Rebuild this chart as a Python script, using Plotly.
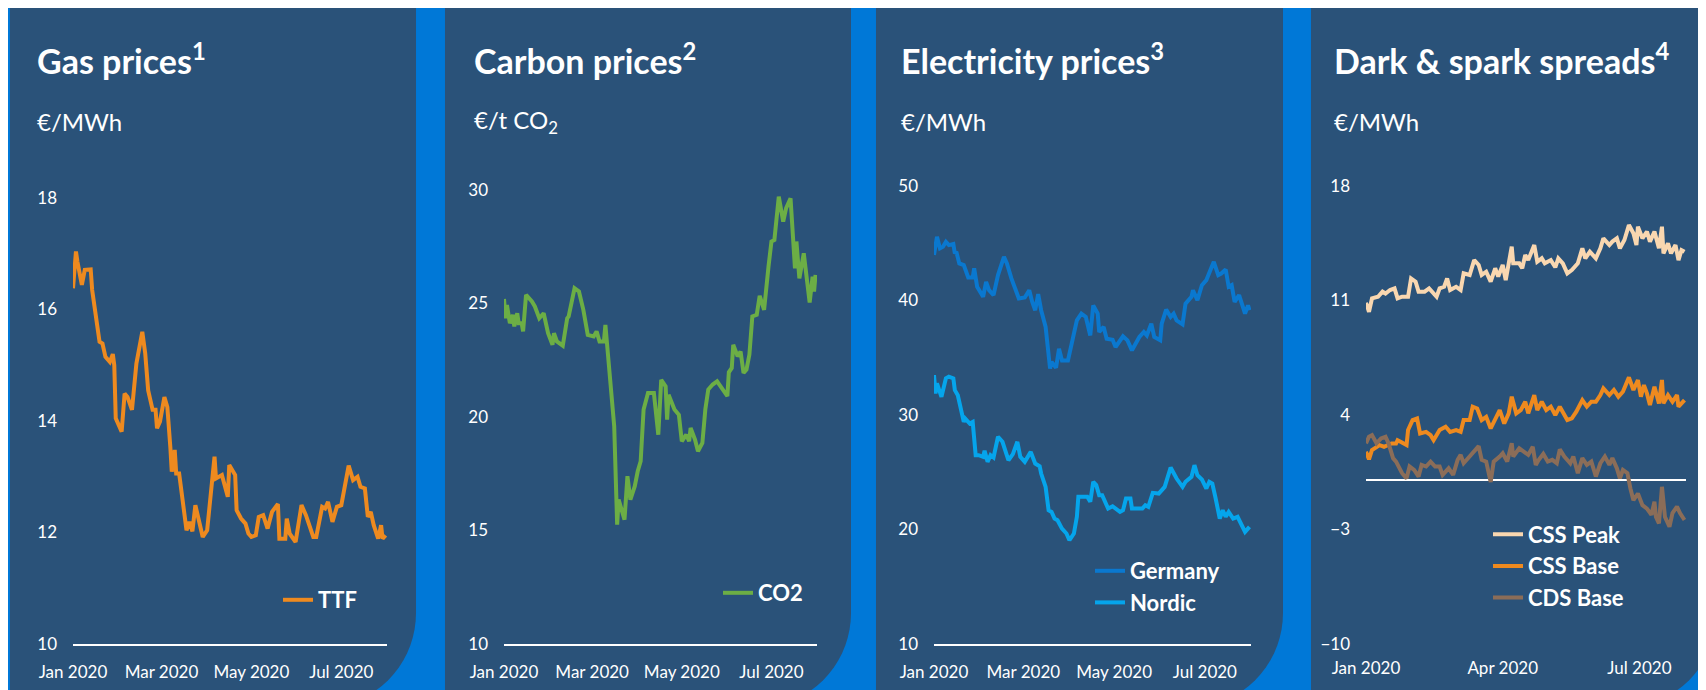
import math
import plotly.graph_objects as go

W, H = 1706, 690

# ---- data ----
ttf_dates = ["2020-01-01", "2020-01-02", "2020-01-03", "2020-01-04", "2020-01-07", "2020-01-09", "2020-01-13", "2020-01-14",
             "2020-01-19", "2020-01-21", "2020-01-23", "2020-01-26", "2020-01-28", "2020-01-29", "2020-01-30", "2020-02-03",
             "2020-02-05", "2020-02-07", "2020-02-10", "2020-02-13", "2020-02-17", "2020-02-19", "2020-02-21", "2020-02-24",
             "2020-02-26", "2020-02-27", "2020-02-29", "2020-03-03", "2020-03-05", "2020-03-07", "2020-03-08", "2020-03-10",
             "2020-03-11", "2020-03-13", "2020-03-16", "2020-03-18", "2020-03-20", "2020-03-22", "2020-03-24", "2020-03-27",
             "2020-03-29", "2020-04-01", "2020-04-06", "2020-04-07", "2020-04-11", "2020-04-15", "2020-04-16", "2020-04-20",
             "2020-04-21", "2020-04-24", "2020-04-27", "2020-04-29", "2020-05-01", "2020-05-04", "2020-05-06", "2020-05-09",
             "2020-05-12", "2020-05-15", "2020-05-19", "2020-05-20", "2020-05-24", "2020-05-25", "2020-05-27", "2020-05-31",
             "2020-06-02", "2020-06-04", "2020-06-07", "2020-06-12", "2020-06-14", "2020-06-18", "2020-06-20", "2020-06-22",
             "2020-06-25", "2020-06-28", "2020-07-01", "2020-07-06", "2020-07-09", "2020-07-12", "2020-07-14", "2020-07-17",
             "2020-07-19", "2020-07-21", "2020-07-23", "2020-07-26", "2020-07-28", "2020-07-29", "2020-07-31"]
ttf = [16.38, 16.70, 17.04, 16.86, 16.44, 16.71, 16.72, 16.35,
       15.42, 15.39, 15.15, 15.06, 15.20, 15.00, 14.05, 13.81,
       14.49, 14.43, 14.20, 15.03, 15.60, 15.21, 14.55, 14.20,
       14.20, 13.87, 13.99, 14.43, 14.25, 13.54, 13.09, 13.48,
       13.06, 13.06, 12.52, 12.04, 12.19, 12.02, 12.49, 12.13,
       11.92, 12.04, 13.36, 12.97, 13.03, 12.64, 13.21, 13.03,
       12.40, 12.25, 12.16, 11.98, 11.92, 11.95, 12.28, 12.31,
       12.07, 12.37, 12.51, 11.89, 11.89, 12.25, 11.98, 11.83,
       12.13, 12.49, 12.31, 11.92, 11.92, 12.46, 12.43, 12.55,
       12.19, 12.46, 12.49, 13.20, 12.94, 13.00, 12.82, 12.79,
       12.28, 12.37, 12.13, 11.89, 12.13, 11.89, 11.95]

co2_dates = ["2020-01-01", "2020-01-02", "2020-01-03", "2020-01-05", "2020-01-07", "2020-01-08", "2020-01-10", "2020-01-11",
             "2020-01-13", "2020-01-14", "2020-01-16", "2020-01-20", "2020-01-22", "2020-01-25", "2020-01-28", "2020-01-30",
             "2020-01-31", "2020-02-03", "2020-02-04", "2020-02-06", "2020-02-10", "2020-02-13", "2020-02-14", "2020-02-18",
             "2020-02-21", "2020-02-24", "2020-02-27", "2020-03-02", "2020-03-04", "2020-03-06", "2020-03-09", "2020-03-10",
             "2020-03-11", "2020-03-16", "2020-03-18", "2020-03-19", "2020-03-23", "2020-03-25", "2020-03-27", "2020-03-30",
             "2020-04-01", "2020-04-03", "2020-04-05", "2020-04-08", "2020-04-12", "2020-04-15", "2020-04-17", "2020-04-20",
             "2020-04-21", "2020-04-22", "2020-04-26", "2020-04-29", "2020-05-01", "2020-05-04", "2020-05-06", "2020-05-07",
             "2020-05-10", "2020-05-12", "2020-05-15", "2020-05-17", "2020-05-19", "2020-05-22", "2020-05-25", "2020-05-28",
             "2020-06-01", "2020-06-02", "2020-06-04", "2020-06-05", "2020-06-08", "2020-06-10", "2020-06-12", "2020-06-14",
             "2020-06-16", "2020-06-18", "2020-06-21", "2020-06-23", "2020-06-26", "2020-06-29", "2020-07-01", "2020-07-03",
             "2020-07-06", "2020-07-09", "2020-07-11", "2020-07-14", "2020-07-16", "2020-07-17", "2020-07-18", "2020-07-20",
             "2020-07-23", "2020-07-27", "2020-07-29", "2020-07-30", "2020-07-31"]
co2 = [25.20, 24.35, 24.93, 24.13, 24.50, 23.99, 24.57, 24.13,
       24.13, 23.77, 25.38, 25.09, 24.87, 24.35, 24.57, 23.84,
       23.69, 23.18, 23.69, 23.33, 23.14, 24.35, 24.43, 25.67,
       25.53, 24.72, 23.62, 23.55, 23.77, 23.33, 23.33, 24.06,
       23.33, 19.59, 15.26, 16.36, 15.48, 17.39, 16.36, 16.95,
       17.61, 18.05, 20.33, 21.06, 21.06, 19.22, 21.64, 21.35,
       19.88, 20.98, 20.33, 20.10, 18.93, 19.22, 18.93, 19.52,
       19.00, 18.49, 18.86, 20.33, 21.21, 21.43, 21.57, 21.28,
       20.92, 21.97, 22.16, 23.18, 22.67, 22.89, 21.94, 22.09,
       22.75, 24.43, 24.50, 25.34, 24.72, 26.63, 27.73, 27.80,
       29.71, 28.61, 29.20, 29.63, 27.80, 26.55, 27.73, 26.11,
       27.21, 25.04, 26.18, 25.53, 26.26]

germany_dates = ["2020-01-01", "2020-01-02", "2020-01-03", "2020-01-05", "2020-01-07", "2020-01-09", "2020-01-11", "2020-01-14",
                 "2020-01-15", "2020-01-16", "2020-01-18", "2020-01-21", "2020-01-24", "2020-01-27", "2020-01-28", "2020-01-30",
                 "2020-02-03", "2020-02-05", "2020-02-07", "2020-02-10", "2020-02-13", "2020-02-17", "2020-02-19", "2020-02-22",
                 "2020-02-25", "2020-02-27", "2020-03-02", "2020-03-05", "2020-03-07", "2020-03-09", "2020-03-11", "2020-03-13",
                 "2020-03-16", "2020-03-19", "2020-03-20", "2020-03-23", "2020-03-25", "2020-03-27", "2020-03-31", "2020-04-02",
                 "2020-04-06", "2020-04-09", "2020-04-12", "2020-04-15", "2020-04-17", "2020-04-20", "2020-04-21", "2020-04-24",
                 "2020-04-26", "2020-04-30", "2020-05-02", "2020-05-07", "2020-05-10", "2020-05-13", "2020-05-18", "2020-05-21",
                 "2020-05-23", "2020-05-26", "2020-05-28", "2020-06-01", "2020-06-02", "2020-06-05", "2020-06-08", "2020-06-10",
                 "2020-06-12", "2020-06-16", "2020-06-18", "2020-06-22", "2020-06-23", "2020-06-26", "2020-06-29", "2020-07-02",
                 "2020-07-05", "2020-07-07", "2020-07-10", "2020-07-12", "2020-07-15", "2020-07-17", "2020-07-19", "2020-07-21",
                 "2020-07-24", "2020-07-28", "2020-07-30", "2020-07-31"]
germany = [43.97, 44.84, 45.57, 44.55, 44.69, 45.13, 44.84, 44.93,
           44.11, 44.26, 43.24, 43.09, 42.01, 42.01, 42.80, 41.20,
           40.32, 41.63, 40.90, 40.47, 42.22, 43.82, 43.24, 41.93,
           40.90, 40.17, 40.26, 40.90, 39.88, 39.15, 40.55, 39.15,
           37.69, 34.05, 34.63, 34.13, 35.79, 34.77, 34.77, 36.08,
           38.27, 38.85, 38.56, 36.95, 39.57, 38.85, 37.25, 37.69,
           36.67, 36.58, 35.94, 36.87, 36.52, 35.65, 36.81, 37.25,
           36.95, 37.98, 36.81, 36.52, 37.98, 39.21, 38.56, 38.85,
           38.27, 37.92, 39.72, 40.32, 40.90, 40.03, 41.34, 41.78,
           42.80, 43.38, 42.22, 42.36, 42.71, 41.20, 41.34, 39.88,
           40.47, 38.85, 39.57, 39.15]

nordic_dates = ["2020-01-01", "2020-01-02", "2020-01-03", "2020-01-06", "2020-01-09", "2020-01-11", "2020-01-14", "2020-01-15",
                "2020-01-17", "2020-01-19", "2020-01-21", "2020-01-22", "2020-01-25", "2020-01-27", "2020-01-29", "2020-01-31",
                "2020-02-03", "2020-02-04", "2020-02-06", "2020-02-08", "2020-02-10", "2020-02-13", "2020-02-16", "2020-02-20",
                "2020-02-23", "2020-02-26", "2020-02-28", "2020-03-02", "2020-03-06", "2020-03-09", "2020-03-12", "2020-03-13",
                "2020-03-16", "2020-03-18", "2020-03-20", "2020-03-22", "2020-03-24", "2020-03-27", "2020-03-30", "2020-04-01",
                "2020-04-04", "2020-04-06", "2020-04-07", "2020-04-10", "2020-04-13", "2020-04-15", "2020-04-17", "2020-04-19",
                "2020-04-21", "2020-04-23", "2020-04-27", "2020-04-30", "2020-05-05", "2020-05-07", "2020-05-09", "2020-05-12",
                "2020-05-13", "2020-05-18", "2020-05-20", "2020-05-22", "2020-05-24", "2020-05-27", "2020-05-31", "2020-06-04",
                "2020-06-08", "2020-06-12", "2020-06-16", "2020-06-18", "2020-06-22", "2020-06-24", "2020-06-26", "2020-06-29",
                "2020-07-02", "2020-07-04", "2020-07-06", "2020-07-08", "2020-07-11", "2020-07-13", "2020-07-15", "2020-07-17",
                "2020-07-20", "2020-07-23", "2020-07-26", "2020-07-28", "2020-07-31"]
nordic = [33.49, 31.88, 32.76, 31.59, 33.20, 33.35, 33.20, 32.17,
          31.73, 30.43, 29.40, 29.69, 29.26, 29.40, 26.49, 26.49,
          26.35, 26.87, 25.91, 26.49, 26.29, 28.10, 27.66, 26.05,
          26.58, 27.66, 26.35, 25.91, 26.78, 25.76, 25.53, 24.89,
          23.72, 21.68, 21.54, 20.96, 20.81, 20.08, 19.65, 19.06,
          19.65, 21.11, 22.86, 22.86, 22.86, 22.42, 24.17, 23.88,
          23.00, 23.00, 21.83, 22.03, 21.54, 21.68, 22.71, 22.71,
          21.83, 21.83, 21.83, 22.12, 21.98, 23.20, 23.14, 23.72,
          25.41, 24.45, 23.72, 24.17, 24.60, 25.62, 24.74, 24.37,
          23.58, 24.17, 24.02, 22.86, 20.96, 21.68, 21.11, 21.54,
          20.96, 21.11, 20.23, 19.79, 20.23]

peak_dates = ["2020-01-01", "2020-01-03", "2020-01-05", "2020-01-09", "2020-01-12", "2020-01-14", "2020-01-17", "2020-01-20",
              "2020-01-22", "2020-01-25", "2020-01-29", "2020-01-31", "2020-02-03", "2020-02-05", "2020-02-09", "2020-02-12",
              "2020-02-17", "2020-02-19", "2020-02-22", "2020-02-24", "2020-02-26", "2020-03-01", "2020-03-04", "2020-03-06",
              "2020-03-10", "2020-03-13", "2020-03-16", "2020-03-18", "2020-03-21", "2020-03-24", "2020-03-27", "2020-03-29",
              "2020-04-01", "2020-04-03", "2020-04-07", "2020-04-08", "2020-04-12", "2020-04-14", "2020-04-16", "2020-04-18",
              "2020-04-22", "2020-04-24", "2020-04-27", "2020-04-29", "2020-05-03", "2020-05-06", "2020-05-08", "2020-05-11",
              "2020-05-14", "2020-05-17", "2020-05-21", "2020-05-24", "2020-05-26", "2020-05-29", "2020-06-02", "2020-06-05",
              "2020-06-07", "2020-06-11", "2020-06-13", "2020-06-16", "2020-06-18", "2020-06-21", "2020-06-24", "2020-06-27",
              "2020-06-29", "2020-06-30", "2020-07-03", "2020-07-06", "2020-07-08", "2020-07-11", "2020-07-14", "2020-07-16",
              "2020-07-17", "2020-07-20", "2020-07-22", "2020-07-25", "2020-07-27", "2020-07-29", "2020-07-31"]
css_peak = [10.86, 10.31, 11.13, 11.23, 11.54, 11.43, 11.64, 11.74,
            11.13, 11.23, 11.23, 12.35, 12.15, 11.54, 11.54, 11.74,
            11.23, 11.74, 11.84, 12.35, 11.64, 11.84, 11.64, 12.66,
            12.56, 13.47, 13.17, 12.56, 12.76, 12.15, 12.97, 12.46,
            13.17, 12.25, 14.29, 13.27, 13.27, 12.97, 13.78, 13.47,
            14.39, 13.37, 13.58, 13.27, 13.47, 13.03, 13.58, 13.27,
            12.66, 12.86, 13.27, 14.19, 13.58, 13.98, 13.58, 14.19,
            14.80, 14.39, 14.60, 14.80, 14.19, 14.70, 15.61, 15.11,
            14.39, 15.51, 14.80, 15.21, 14.60, 15.21, 14.19, 15.51,
            13.88, 14.49, 13.88, 14.39, 13.47, 14.08, 13.98]

base_dates = ["2020-01-01", "2020-01-03", "2020-01-05", "2020-01-10", "2020-01-13", "2020-01-18", "2020-01-21", "2020-01-22",
              "2020-01-24", "2020-01-28", "2020-01-29", "2020-02-01", "2020-02-04", "2020-02-06", "2020-02-10", "2020-02-13",
              "2020-02-15", "2020-02-19", "2020-02-23", "2020-02-26", "2020-03-01", "2020-03-04", "2020-03-06", "2020-03-10",
              "2020-03-12", "2020-03-15", "2020-03-18", "2020-03-21", "2020-03-24", "2020-03-27", "2020-03-30", "2020-04-02",
              "2020-04-05", "2020-04-07", "2020-04-10", "2020-04-13", "2020-04-16", "2020-04-18", "2020-04-22", "2020-04-24",
              "2020-04-27", "2020-04-30", "2020-05-03", "2020-05-06", "2020-05-09", "2020-05-14", "2020-05-17", "2020-05-20",
              "2020-05-24", "2020-05-27", "2020-05-30", "2020-06-02", "2020-06-05", "2020-06-07", "2020-06-11", "2020-06-14",
              "2020-06-17", "2020-06-20", "2020-06-24", "2020-06-27", "2020-06-30", "2020-07-02", "2020-07-04", "2020-07-06",
              "2020-07-08", "2020-07-11", "2020-07-14", "2020-07-16", "2020-07-17", "2020-07-20", "2020-07-23", "2020-07-26",
              "2020-07-27", "2020-07-31"]
css_base = [1.75, 1.29, 1.86, 2.16, 2.06, 2.26, 2.26, 2.46,
            2.36, 2.16, 3.08, 3.69, 3.79, 2.87, 2.97, 2.77,
            2.46, 3.08, 3.28, 2.97, 3.08, 2.97, 3.69, 3.69,
            4.51, 4.40, 3.69, 3.89, 3.18, 3.79, 4.30, 3.48,
            4.10, 5.12, 4.10, 4.30, 4.81, 4.10, 5.22, 4.30,
            4.81, 4.30, 4.51, 4.00, 4.51, 3.69, 3.79, 4.20,
            4.91, 4.51, 4.81, 4.81, 5.22, 5.63, 5.22, 5.53,
            5.12, 5.42, 6.30, 5.53, 6.14, 5.12, 5.83, 5.32,
            4.61, 5.73, 4.71, 6.14, 4.71, 5.22, 4.81, 5.22,
            4.51, 4.91]

cds_dates = ["2020-01-01", "2020-01-03", "2020-01-05", "2020-01-08", "2020-01-11", "2020-01-14", "2020-01-16", "2020-01-19",
             "2020-01-21", "2020-01-23", "2020-01-25", "2020-01-28", "2020-01-30", "2020-02-02", "2020-02-05", "2020-02-07",
             "2020-02-10", "2020-02-13", "2020-02-16", "2020-02-19", "2020-02-21", "2020-02-25", "2020-02-28", "2020-03-02",
             "2020-03-04", "2020-03-06", "2020-03-10", "2020-03-13", "2020-03-16", "2020-03-18", "2020-03-21", "2020-03-24",
             "2020-03-26", "2020-03-30", "2020-04-01", "2020-04-04", "2020-04-07", "2020-04-08", "2020-04-12", "2020-04-15",
             "2020-04-18", "2020-04-21", "2020-04-23", "2020-04-25", "2020-04-28", "2020-05-01", "2020-05-04", "2020-05-07",
             "2020-05-09", "2020-05-12", "2020-05-16", "2020-05-18", "2020-05-21", "2020-05-24", "2020-05-27", "2020-05-30",
             "2020-06-02", "2020-06-05", "2020-06-08", "2020-06-11", "2020-06-13", "2020-06-16", "2020-06-18", "2020-06-20",
             "2020-06-23", "2020-06-25", "2020-06-27", "2020-06-30", "2020-07-03", "2020-07-06", "2020-07-09", "2020-07-11",
             "2020-07-12", "2020-07-14", "2020-07-16", "2020-07-18", "2020-07-20", "2020-07-21", "2020-07-23", "2020-07-26",
             "2020-07-28", "2020-07-31"]
cds_base = [2.27, 2.67, 2.77, 2.27, 2.57, 2.67, 2.27, 1.36,
            1.15, 0.85, 0.44, 0.13, 0.85, 0.64, 0.24, 0.95,
            0.85, 1.15, 0.85, 0.85, 0.34, 0.74, 0.34, 1.26,
            1.56, 1.05, 1.46, 1.76, 2.10, 1.26, 1.15, -0.10,
            1.15, 1.46, 1.66, 1.15, 2.27, 1.46, 1.96, 1.76,
            1.56, 2.06, 0.95, 1.26, 1.62, 1.15, 1.26, 1.05,
            1.90, 1.46, 1.05, 1.46, 0.44, 1.36, 0.95, 1.15,
            0.24, 1.05, 1.46, 0.95, 1.36, 0.74, 0.13, 0.64,
            0.44, -0.49, -1.21, -0.80, -1.51, -1.72, -2.10, -1.30,
            -2.23, -2.63, -0.39, -2.23, -2.63, -2.83, -2.00, -1.60,
            -2.00, -2.42]

titles = ["Gas prices<sup>1</sup>", "Carbon prices<sup>2</sup>", "Electricity prices<sup>3</sup>", "Dark & spark spreads<sup>4</sup>"]
units = ["€/MWh", "€/t CO<sub>2</sub>", "€/MWh", "€/MWh"]

# colours
BG = "#0078D7"
PANEL = "#2A5279"
ORANGE = "#EE8A1F"
FONT = "Lato"

# the page puts the figure 8px in from the top-left corner
OFF = 8

def fx(p):
    return (p - OFF) / W

def fy(p):
    return 1 - (p - OFF) / H

panels = [(10, 416), (445, 851), (876, 1283), (1311, 1717)]
PANEL_TOP, CORNER_Y, R = 8, 613, 95

def panel_path(left, right):
    pts = [(left, PANEL_TOP), (right, PANEL_TOP), (right, CORNER_Y)]
    for i in range(1, 19):
        t = math.radians(i * 5)
        pts.append((right - R + R * math.cos(t), CORNER_Y + R * math.sin(t)))
    pts.append((left, CORNER_Y + R))
    return "M " + " L ".join(f"{fx(x):.5f},{fy(y):.5f}" for x, y in pts) + " Z"

# plot areas in pixels: (left, right, top), bottom is 644 everywhere
plot_boxes = [(73, 387, 198), (504, 817, 190), (934, 1251, 186), (1366, 1686, 186)]
PLOT_BOTTOM = 644
y_ranges = [(10, 18, 2, 10), (10, 30, 5, 10), (10, 50, 10, 10), (-10, 18, 7, -10)]
x_dticks = ["M2", "M2", "M2", "M3"]

fig = go.Figure()

series = [
    (ttf_dates, ttf, "TTF", ORANGE, 1),
    (co2_dates, co2, "CO2", "#6CAE45", 2),
    (germany_dates, germany, "Germany", "#0A78CF", 3),
    (nordic_dates, nordic, "Nordic", "#05A5EC", 3),
    (peak_dates, css_peak, "CSS Peak", "#F9D7B0", 4),
    (base_dates, css_base, "CSS Base", ORANGE, 4),
    (cds_dates, cds_base, "CDS Base", "#8B6D58", 4),
]
for xs, ys, name, color, k in series:
    sfx = "" if k == 1 else str(k)
    fig.add_trace(go.Scatter(x=xs, y=ys, mode="lines", name=name,
                             line=dict(color=color, width=4),
                             xaxis="x" + sfx, yaxis="y" + sfx,
                             legend="legend" + sfx))

layout = dict(
    width=W, height=H,
    margin=dict(l=0, r=0, t=0, b=0, pad=0, autoexpand=False),
    paper_bgcolor=BG, plot_bgcolor="rgba(0,0,0,0)",
    font=dict(family=FONT, color="white"),
    shapes=[], annotations=[],
)

tickfont = dict(family=FONT, size=17, color="white")
for k, ((l, r, t), (y0, y1, dy, ty0), xd) in enumerate(zip(plot_boxes, y_ranges, x_dticks), start=1):
    sfx = "" if k == 1 else str(k)
    layout["xaxis" + sfx] = dict(
        domain=[fx(l), fx(r)], anchor="y" + sfx, automargin=False,
        range=["2020-01-01", "2020-08-01"], tick0="2020-01-01", dtick=xd,
        tickformat="%b %Y", showgrid=False, zeroline=False,
        showline=(k != 4), linecolor="white", linewidth=1.5,
        ticks="", ticklabelstandoff=12, tickfont=tickfont, fixedrange=True,
    )
    layout["yaxis" + sfx] = dict(
        domain=[fy(PLOT_BOTTOM), fy(t)], anchor="x" + sfx, automargin=False,
        range=[y0, y1], tick0=ty0, dtick=dy, showgrid=False,
        zeroline=(k == 4), zerolinecolor="white", zerolinewidth=1.5,
        showline=False, ticks="", ticklabelstandoff=15, tickfont=tickfont,
    )

# panels
for l, r in panels:
    layout["shapes"].append(dict(type="path", path=panel_path(l, r), xref="paper", yref="paper",
                                 fillcolor=PANEL, line=dict(width=0), layer="below"))

# titles and units
title_x = [35, 472, 899, 1332]
for tx, title, unit in zip(title_x, titles, units):
    layout["annotations"].append(dict(text=f"<b>{title}</b>", x=fx(tx), y=fy(59), xref="paper", yref="paper",
                                      xanchor="left", yanchor="middle", showarrow=False,
                                      font=dict(family=FONT, size=34, color="white")))
    layout["annotations"].append(dict(text=unit, x=fx(tx), y=fy(121), xref="paper", yref="paper",
                                      xanchor="left", yanchor="middle", showarrow=False,
                                      font=dict(family=FONT, size=24, color="white")))

# legends: (text start x, centre y)
legend_pos = [(320, 600), (760, 593), (1132, 587), (1530, 566)]
for k, (lx, ly) in enumerate(legend_pos, start=1):
    sfx = "" if k == 1 else str(k)
    layout["legend" + sfx] = dict(x=fx(lx - 42), y=fy(ly), xanchor="left", yanchor="middle",
                                  bgcolor="rgba(0,0,0,0)", borderwidth=0,
                                  font=dict(family=FONT, size=22, color="white", weight="bold"))

fig.update_layout(**layout)
fig.update_layout(showlegend=True)
fig.write_html("out.html")
